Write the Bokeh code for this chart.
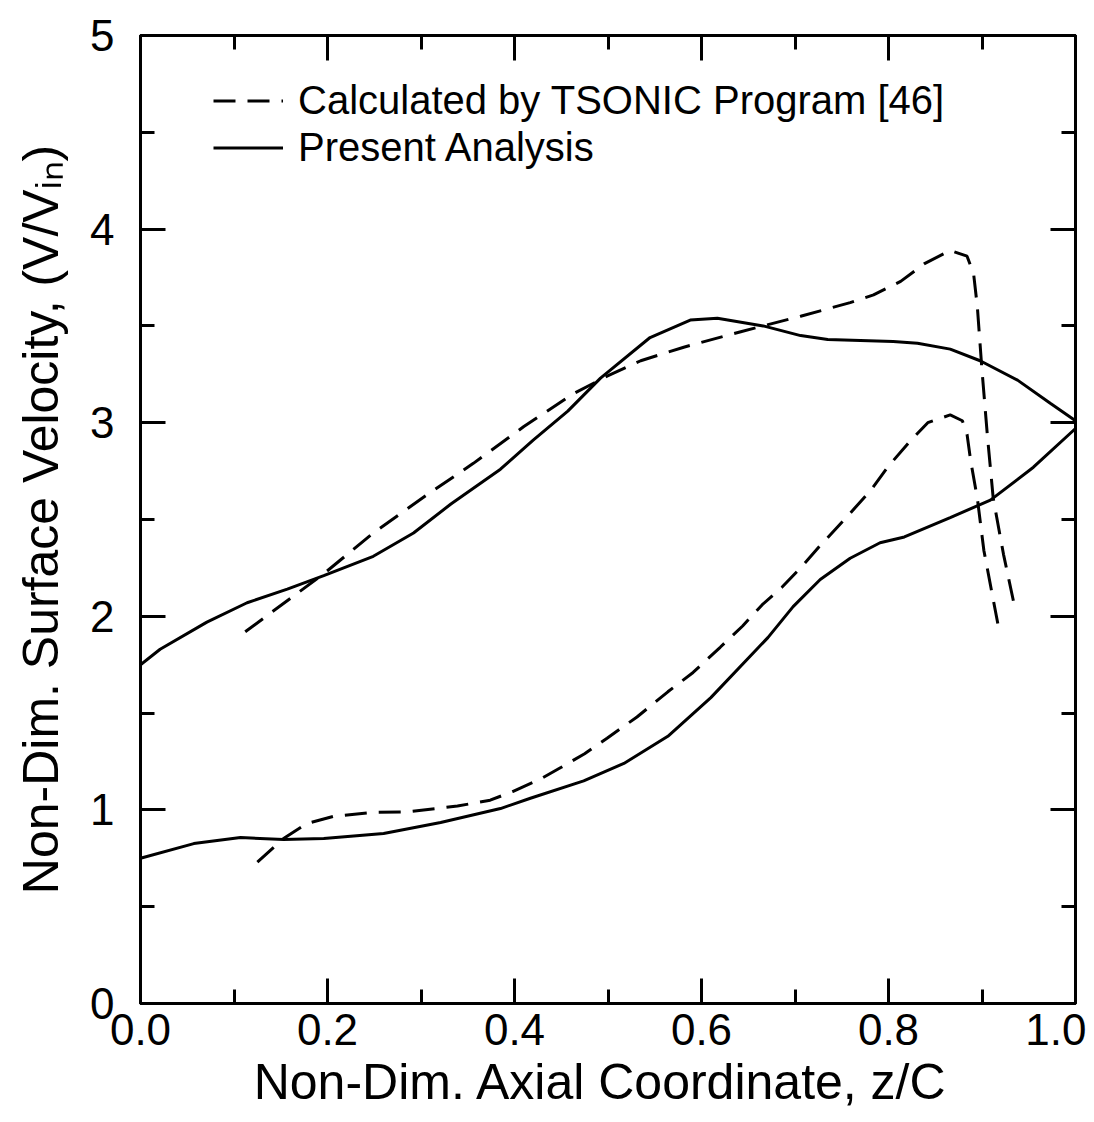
from bokeh.plotting import figure
from bokeh.models import Range1d, LinearAxis, FixedTicker, Legend, LegendItem, CustomJSTickFormatter
from bokeh.embed import file_html
from bokeh.resources import INLINE

# ---- data ----
upper_solid_x = [0.0, 0.021, 0.071, 0.114, 0.157, 0.196, 0.249, 0.292, 0.332, 0.385, 0.42, 0.457,
                 0.492, 0.545, 0.588, 0.617, 0.666, 0.706, 0.735, 0.805, 0.831, 0.866, 0.898,
                 0.938, 0.973, 1.0]
upper_solid_y = [1.75, 1.83, 1.97, 2.07, 2.14, 2.21, 2.31, 2.43, 2.58, 2.76, 2.91, 3.06,
                 3.23, 3.44, 3.53, 3.54, 3.50, 3.45, 3.43, 3.42, 3.41, 3.38, 3.32,
                 3.22, 3.10, 3.01]

lower_solid_x = [0.0, 0.057, 0.107, 0.153, 0.196, 0.26, 0.321, 0.385, 0.417, 0.474, 0.517, 0.564,
                 0.61, 0.671, 0.698, 0.727, 0.759, 0.791, 0.817, 0.866, 0.909, 0.955, 1.0]
lower_solid_y = [0.75, 0.826, 0.857, 0.847, 0.852, 0.878, 0.935, 1.007, 1.06, 1.15, 1.24, 1.38,
                 1.58, 1.89, 2.05, 2.19, 2.30, 2.38, 2.41, 2.51, 2.60, 2.77, 2.97]

upper_dash_x = [0.112, 0.196, 0.249, 0.307, 0.356, 0.41, 0.463, 0.499, 0.535, 0.581, 0.642, 0.666,
                0.706, 0.759, 0.784, 0.813, 0.838, 0.866, 0.884, 0.891, 0.895, 0.90, 0.906,
                0.912, 0.923, 0.934]
upper_dash_y = [1.92, 2.22, 2.43, 2.63, 2.79, 2.98, 3.15, 3.24, 3.32, 3.39, 3.47, 3.50,
                3.55, 3.62, 3.66, 3.73, 3.82, 3.89, 3.86, 3.77, 3.60, 3.27, 2.92,
                2.61, 2.32, 2.07]

lower_dash_x = [0.125, 0.153, 0.178, 0.206, 0.249, 0.285, 0.339, 0.374, 0.398, 0.428, 0.45, 0.475,
                0.499, 0.531, 0.564, 0.591, 0.62, 0.644, 0.665, 0.686, 0.706, 0.726, 0.751,
                0.781, 0.799, 0.824, 0.842, 0.866, 0.879, 0.884, 0.888, 0.895, 0.902, 0.917]
lower_dash_y = [0.73, 0.852, 0.93, 0.966, 0.987, 0.99, 1.02, 1.05, 1.095, 1.16, 1.22, 1.29,
                1.37, 1.48, 1.61, 1.71, 1.84, 1.95, 2.06, 2.15, 2.25, 2.36, 2.49,
                2.65, 2.77, 2.91, 3.00, 3.04, 3.01, 2.94, 2.80, 2.61, 2.34, 1.96]

x_ticks = [0.0, 0.2, 0.4, 0.6, 0.8, 1.0]
x_minor = [0.1, 0.3, 0.5, 0.7, 0.9]
x_labels = ["0.0", "0.2", "0.4", "0.6", "0.8", "1.0"]
y_ticks = [0, 1, 2, 3, 4, 5]
y_minor = [0.5, 1.5, 2.5, 3.5, 4.5]
y_labels = ["0", "1", "2", "3", "4", "5"]

legend_labels = ["Calculated by TSONIC Program [46]", "Present Analysis"]
x_title = "Non-Dim. Axial Coordinate,  z/C"
y_title = "Non-Dim. Surface Velocity, (V/V\u1d62\u2099)"

FONT = "Liberation Sans"

p = figure(width=1086, height=1114, output_backend="svg", toolbar_location=None,
           x_range=Range1d(0, 1), y_range=Range1d(0, 5),
           min_border_left=140, min_border_right=11, min_border_top=35, min_border_bottom=111,
           background_fill_color="white", border_fill_color="white")
p.grid.visible = False
p.outline_line_color = "black"
p.outline_line_width = 3

for ax in (p.xaxis[0], p.yaxis[0]):
    ax.major_tick_in = 25
    ax.major_tick_out = 0
    ax.minor_tick_in = 14
    ax.minor_tick_out = 0
    ax.major_tick_line_width = 3
    ax.minor_tick_line_width = 3
    ax.axis_line_width = 3
    ax.major_label_text_font = FONT
    ax.major_label_text_font_size = "44px"
    ax.major_label_text_color = "black"
    ax.axis_label_text_font = FONT
    ax.axis_label_text_font_size = "50px"
    ax.axis_label_text_font_style = "normal"
    ax.axis_label_text_color = "black"

p.xaxis[0].ticker = FixedTicker(ticks=x_ticks, minor_ticks=x_minor)
p.xaxis[0].major_label_overrides = {t: l for t, l in zip(x_ticks, x_labels)}
p.xaxis[0].axis_label = x_title
p.xaxis[0].major_label_standoff = 10
p.xaxis[0].axis_label_standoff = 6

p.yaxis[0].ticker = FixedTicker(ticks=y_ticks, minor_ticks=y_minor)
p.yaxis[0].major_label_overrides = {t: l for t, l in zip(y_ticks, y_labels)}
p.yaxis[0].axis_label = y_title
p.yaxis[0].major_label_standoff = 26
p.yaxis[0].axis_label_standoff = 18
p.yaxis[0].major_label_orientation = "horizontal"

blank = CustomJSTickFormatter(code="return ''")
top = LinearAxis(ticker=FixedTicker(ticks=x_ticks, minor_ticks=x_minor), formatter=blank,
                 major_tick_in=25, major_tick_out=0,
                 minor_tick_in=14, minor_tick_out=0, major_tick_line_width=3,
                 minor_tick_line_width=3, axis_line_width=3, major_label_standoff=0)
right = LinearAxis(ticker=FixedTicker(ticks=y_ticks, minor_ticks=y_minor), formatter=blank,
                   major_tick_in=25, major_tick_out=0,
                   minor_tick_in=14, minor_tick_out=0, major_tick_line_width=3,
                   minor_tick_line_width=3, axis_line_width=3, major_label_standoff=0)
p.add_layout(top, "above")
p.add_layout(right, "right")

DASH = "22 12"
r_ud = p.line(upper_dash_x, upper_dash_y, line_color="black", line_width=3, line_dash=DASH)
p.line(lower_dash_x, lower_dash_y, line_color="black", line_width=3, line_dash=DASH)
r_us = p.line(upper_solid_x, upper_solid_y, line_color="black", line_width=3)
p.line(lower_solid_x, lower_solid_y, line_color="black", line_width=3)

legend = Legend(items=[LegendItem(label=legend_labels[0], renderers=[r_ud]),
                       LegendItem(label=legend_labels[1], renderers=[r_us])],
                location=(73, 832), orientation="vertical",
                label_text_font=FONT, label_text_font_size="40px", label_text_color="black",
                glyph_width=70, glyph_height=47, label_height=47, label_standoff=15,
                spacing=0, padding=0, margin=0, border_line_color=None,
                background_fill_alpha=0)
p.add_layout(legend, "center")

open("out.html", "w").write(file_html(p, INLINE))
